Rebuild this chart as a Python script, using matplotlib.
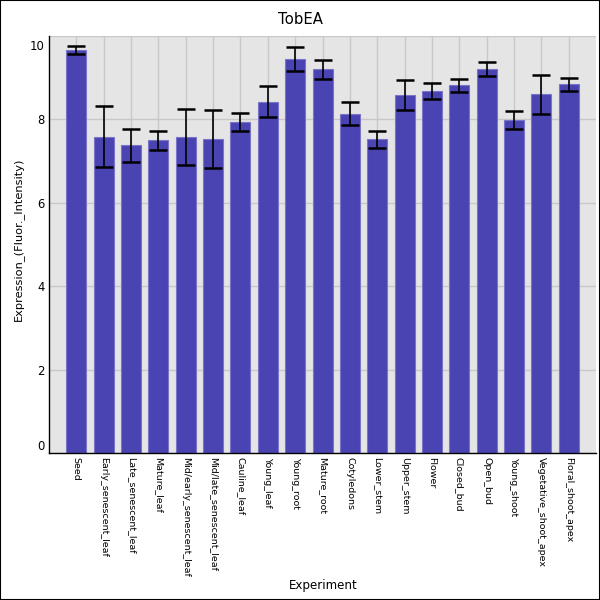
import matplotlib
matplotlib.use("Agg")
import matplotlib.pyplot as plt
import matplotlib.transforms as mtransforms
from matplotlib.patches import Rectangle

experiments = ["Seed", "Early_senescent_leaf", "Late_senescent_leaf", "Mature_leaf",
               "Mid/early_senescent_leaf", "Mid/late_senescent_leaf", "Cauline_leaf",
               "Young_leaf", "Young_root", "Mature_root", "Cotyledons", "Lower_stem",
               "Upper_stem", "Flower", "Closed_bud", "Open_bud", "Young_shoot",
               "Vegetative_shoot_apex", "Floral_shoot_apex"]
expression = [9.66, 7.59, 7.38, 7.50, 7.58, 7.53, 7.94, 8.42, 9.45, 9.20,
              8.14, 7.52, 8.58, 8.68, 8.82, 9.20, 7.99, 8.60, 8.84]
errors = [0.09, 0.74, 0.40, 0.22, 0.66, 0.70, 0.22, 0.37, 0.29, 0.22,
          0.28, 0.20, 0.36, 0.19, 0.16, 0.17, 0.21, 0.47, 0.16]
yticks = [0, 2, 4, 6, 8, 10]

fig = plt.figure(figsize=(6, 6), dpi=100)
fig.patches.append(Rectangle((0, 0), 1, 1, transform=fig.transFigure,
                             fill=False, edgecolor="black", linewidth=1.5))
ax = fig.add_axes([0.0817, 0.2445, 0.9117, 0.6955])
ax.set_facecolor("#e5e5e5")

x = list(range(len(experiments)))
ax.bar(x, expression, width=0.73, color="#4a44b2", edgecolor="#7a75c8",
       linewidth=0.8, zorder=2)
ax.errorbar(x, expression, yerr=errors, fmt="none", ecolor="black",
            elinewidth=1.2, capsize=6.5, capthick=1.8, zorder=3)

ax.set_xlim(-1, len(experiments))
ax.set_ylim(0, 10)
ax.set_xticks(x)
ax.set_xticklabels(experiments, rotation=270, fontsize=6.8, va="top", ha="center")
ax.set_yticks(yticks)
ax.set_yticklabels([str(t) for t in yticks], fontsize=8.4)
ax.tick_params(axis="x", length=0, pad=3)
ax.tick_params(axis="y", length=0, pad=3)

# keep the end labels inside the plot height, as in the original
labels = ax.get_yticklabels()
labels[0].set_va("bottom")
labels[-1].set_va("top")
shift = mtransforms.ScaledTranslation(0, -3 / 72, fig.dpi_scale_trans)
labels[-1].set_transform(labels[-1].get_transform() + shift)

ax.grid(True, color="#c8c8c8", linewidth=1, zorder=0)
ax.set_axisbelow(True)
for side in ["top", "right"]:
    ax.spines[side].set_visible(False)
for side in ["left", "bottom"]:
    ax.spines[side].set_color("black")
    ax.spines[side].set_linewidth(1)

fig.text(0.5, 1 - 20 / 600, "TobEA", ha="center", va="center", fontsize=10.7)
fig.text(18 / 600, 1 - 239 / 600, "Expression_(Fluor._Intensity)", rotation=90,
         ha="center", va="center", fontsize=8.2)
fig.text(323.5 / 600, 1 - 585 / 600, "Experiment", ha="center", va="center",
         fontsize=8.6)

fig.savefig("out.png", dpi=100)
